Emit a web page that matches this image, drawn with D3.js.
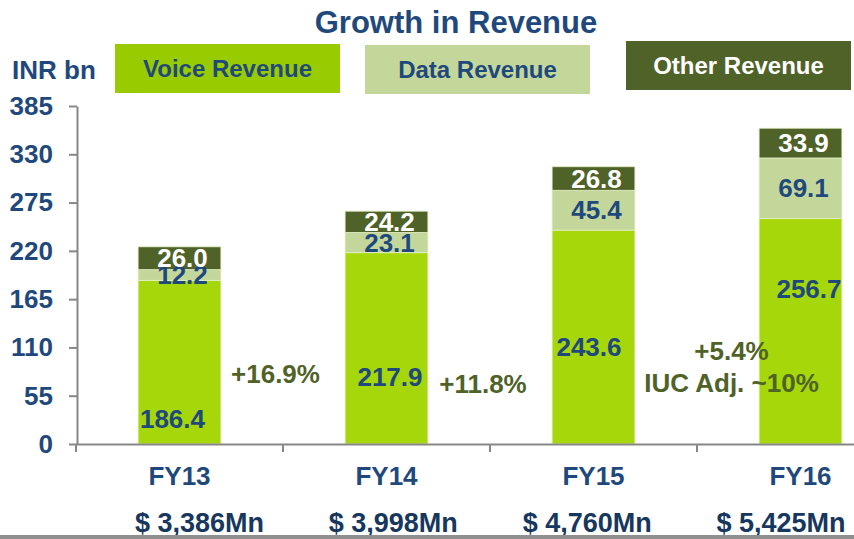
<!DOCTYPE html>
<html>
<head>
<meta charset="utf-8">
<script src="https://cdn.jsdelivr.net/npm/d3@7"></script>
<style>
  html, body { margin: 0; padding: 0; background: #fff; }
  svg { display: block; font-family: "Liberation Sans", Arial, sans-serif; font-weight: bold; }
</style>
</head>
<body>
<svg id="chart" width="854" height="539"></svg>
<script>
// Revenue by year, INR bn
const categories = ["FY13", "FY14", "FY15", "FY16"];
const voiceRevenue = [186.4, 217.9, 243.6, 256.7];
const dataRevenue = [12.2, 23.1, 45.4, 69.1];
const otherRevenue = [26.0, 24.2, 26.8, 33.9];
const usdRevenue = ["$ 3,386Mn", "$ 3,998Mn", "$ 4,760Mn", "$ 5,425Mn"];
const growthLabels = [["+16.9%"], ["+11.8%"], ["+5.4%", "IUC Adj. ~10%"]];
const seriesNames = ["Voice Revenue", "Data Revenue", "Other Revenue"];
const yTicks = [0, 55, 110, 165, 220, 275, 330, 385];

const seriesKeys = ["voice", "data", "other"];
const table = categories.map((c, i) => ({
  year: c, voice: voiceRevenue[i], data: dataRevenue[i], other: otherRevenue[i]
}));

const colors = { voice: "#A5D70A", data: "#C4D79B", other: "#4F6228" };
const legendFill = { voice: "#99CC00", data: "#C4D79B", other: "#4F6228" };
const blue = "#1F497D";
const olive = "#4F6228";
const axisGrey = "#878787";

const svg = d3.select("#chart");

const x = d3.scaleBand().domain(categories).range([76, 904])
  .paddingInner(0.6).paddingOuter(0.3);
const y = d3.scaleLinear().domain([0, 385]).range([444, 106]);

// Title and unit
svg.append("text").attr("x", 456).attr("y", 33).attr("text-anchor", "middle")
  .attr("font-size", 31).attr("fill", blue).text("Growth in Revenue");
svg.append("text").attr("x", 12).attr("y", 79)
  .attr("font-size", 26).attr("fill", blue).text("INR bn");

// Legend boxes
const legendBoxes = [
  { key: "voice", x: 115, y: 44, w: 225, h: 49, text: blue },
  { key: "data", x: 365, y: 45, w: 225, h: 49, text: blue },
  { key: "other", x: 626, y: 41, w: 225, h: 49, text: "#ffffff" }
];
const lg = svg.append("g").selectAll("g").data(legendBoxes).join("g");
lg.append("rect").attr("x", d => d.x).attr("y", d => d.y)
  .attr("width", d => d.w).attr("height", d => d.h)
  .attr("fill", d => legendFill[d.key]);
lg.append("text").attr("x", d => d.x + d.w / 2).attr("y", d => d.y + d.h / 2 + 8.5)
  .attr("text-anchor", "middle").attr("font-size", 24).attr("fill", d => d.text)
  .text((d, i) => seriesNames[i]);

// Stacked bars
const stacked = d3.stack().keys(seriesKeys)(table);
const layers = svg.append("g").selectAll("g").data(stacked).join("g")
  .attr("fill", d => colors[d.key]);
layers.selectAll("rect").data(d => d).join("rect")
  .attr("x", d => x(d.data.year))
  .attr("width", x.bandwidth())
  .attr("y", d => y(d[1]))
  .attr("height", d => y(d[0]) - y(d[1]))
  .attr("stroke", "#e4eec4").attr("stroke-width", 0.8);

// Value labels: data and other centred in their segments
const fmt = d3.format(".1f");
const centreX = d => x(d.data.year) + x.bandwidth() / 2;
["data", "other"].forEach(key => {
  const layer = stacked.find(s => s.key === key);
  svg.append("g").selectAll("text").data(layer).join("text")
    .attr("x", d => centreX(d) + 3)
    .attr("y", d => (y(d[0]) + y(d[1])) / 2 + 9)
    .attr("text-anchor", "middle").attr("font-size", 26)
    .attr("fill", key === "other" ? "#ffffff" : blue)
    .text(d => fmt(d.data[key]));
});

// Voice labels sit at hand-tuned spots inside each bar
const voiceLabelOffset = [
  { dx: -7, dy: 57 }, { dx: 3.5, dy: 29 }, { dx: -4.5, dy: 10 }, { dx: 8.5, dy: -42 }
];
const voiceLayer = stacked.find(s => s.key === "voice");
svg.append("g").selectAll("text").data(voiceLayer).join("text")
  .attr("x", (d, i) => centreX(d) + voiceLabelOffset[i].dx)
  .attr("y", (d, i) => (y(d[0]) + y(d[1])) / 2 + 9 + voiceLabelOffset[i].dy)
  .attr("text-anchor", "middle").attr("font-size", 26).attr("fill", blue)
  .text(d => fmt(d.data.voice));

// Y axis
const yAxis = svg.append("g").attr("transform", "translate(77,0)")
  .call(d3.axisLeft(y).tickValues(yTicks).tickSize(8).tickSizeOuter(0).tickPadding(16));
yAxis.select(".domain").attr("stroke", axisGrey).attr("stroke-width", 2);
yAxis.selectAll(".tick line").attr("stroke", axisGrey).attr("stroke-width", 2);
yAxis.selectAll(".tick text").attr("font-size", 26).attr("fill", blue)
  .attr("font-family", "Liberation Sans, Arial, sans-serif").attr("font-weight", "bold");

// X axis with ticks on category boundaries
const xAxis = svg.append("g").attr("transform", "translate(0,444)")
  .call(d3.axisBottom(x).tickSize(0).tickSizeOuter(0).tickPadding(23));
xAxis.select(".domain").attr("stroke", axisGrey).attr("stroke-width", 2);
xAxis.selectAll(".tick text").attr("font-size", 26).attr("fill", blue)
  .attr("font-family", "Liberation Sans, Arial, sans-serif").attr("font-weight", "bold");
const boundaries = categories.map(c => x(c) + x.bandwidth() / 2 - x.step() / 2);
xAxis.selectAll("line.boundary").data(boundaries).join("line")
  .attr("class", "boundary")
  .attr("x1", d => d).attr("x2", d => d).attr("y1", 0).attr("y2", 8)
  .attr("stroke", axisGrey).attr("stroke-width", 2);

// Growth annotations between years
const growthPos = [
  { dx: -7.5, y: 383 }, { dx: -7, y: 393 }, { dx: 34.5, y: 360 }
];
growthLabels.forEach((lines, i) => {
  const bx = boundaries[i + 1];
  lines.forEach((t, j) => {
    svg.append("text").attr("x", bx + growthPos[i].dx).attr("y", growthPos[i].y + j * 32)
      .attr("text-anchor", "middle").attr("font-size", 26).attr("fill", olive).text(t);
  });
});

// USD revenue row
const usdX = d3.scalePoint().domain(categories).range([199.5, 781]);
svg.append("g").selectAll("text").data(categories).join("text")
  .attr("x", d => usdX(d)).attr("y", 532)
  .attr("text-anchor", "middle").attr("font-size", 27).attr("fill", "#17375E")
  .text((d, i) => usdRevenue[i]);

// Footer rule
svg.append("rect").attr("x", 0).attr("y", 535).attr("width", 854).attr("height", 4)
  .attr("fill", "#8f8f8f");
</script>
</body>
</html>
